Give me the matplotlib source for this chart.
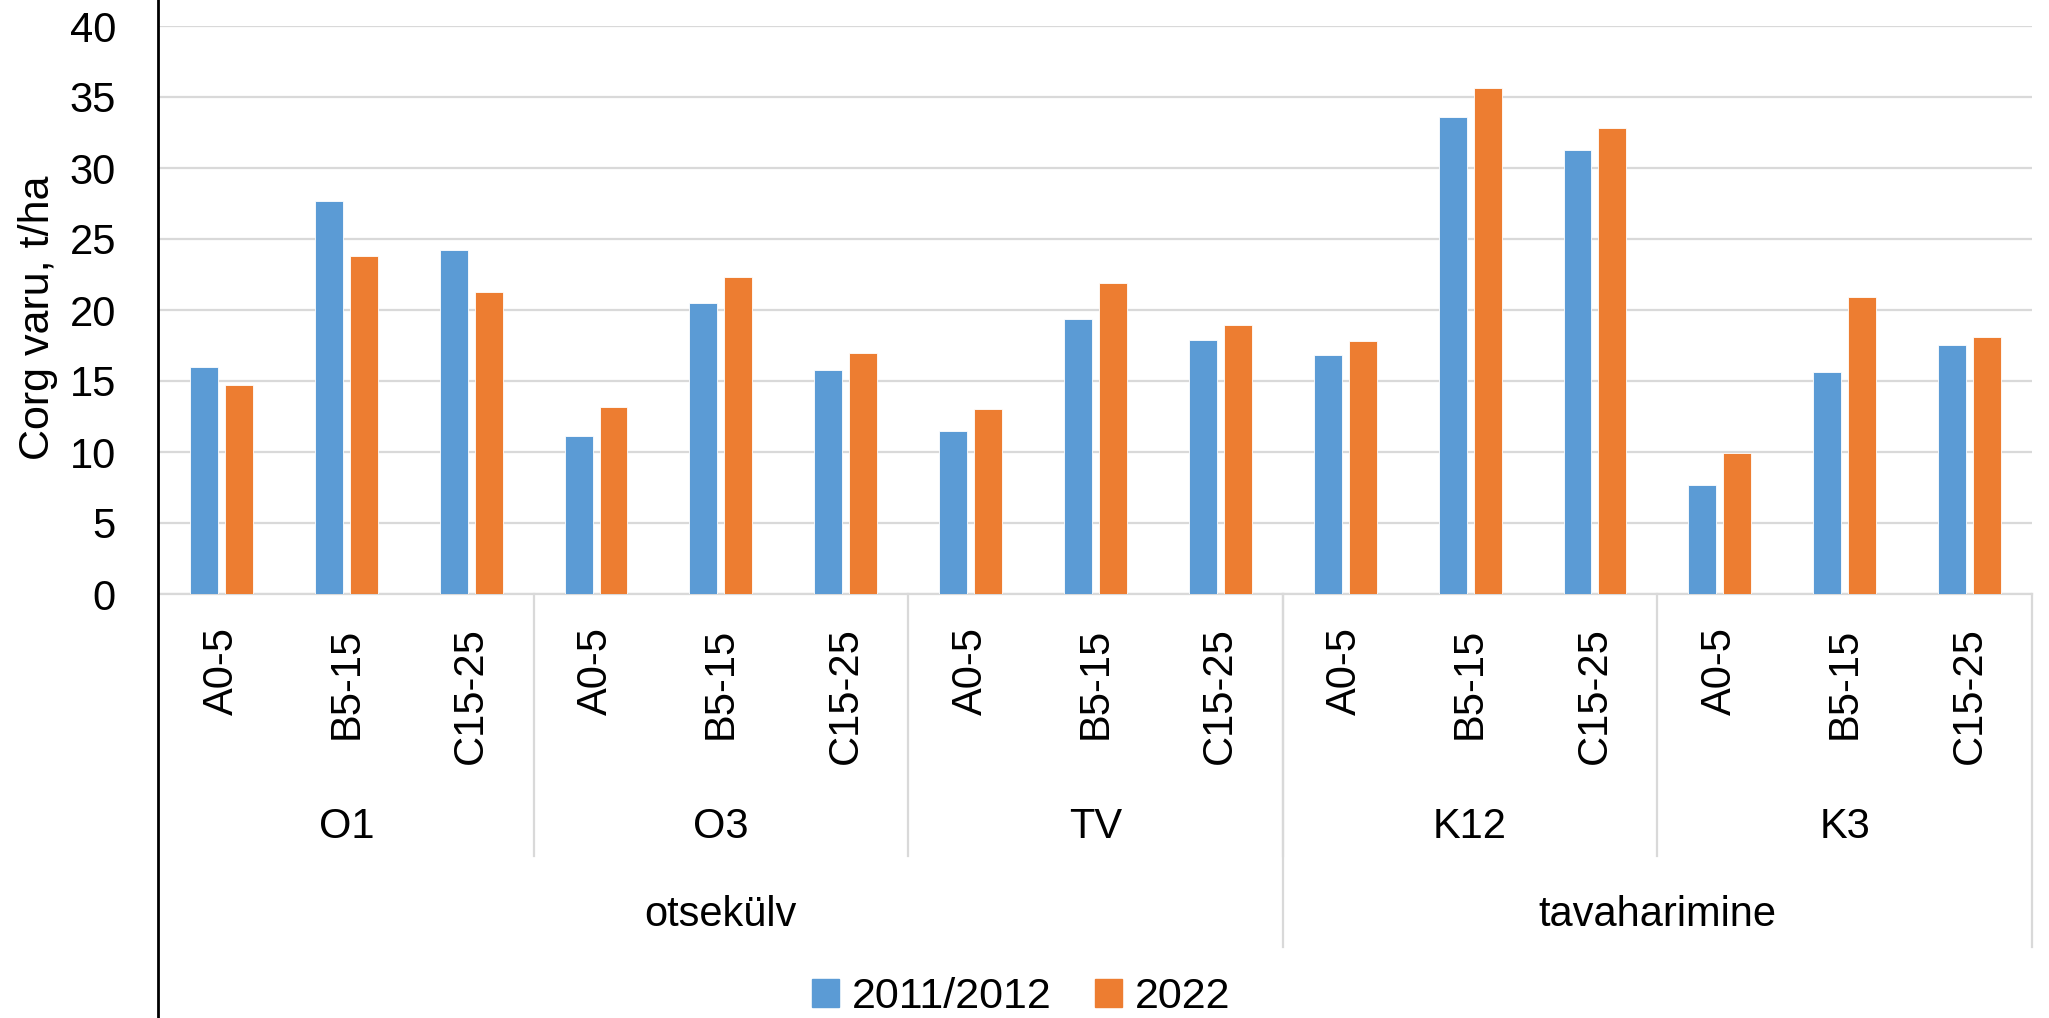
import matplotlib
matplotlib.use('Agg')
import matplotlib.pyplot as plt
from matplotlib.patches import Patch
from matplotlib.lines import Line2D

# Categories (three levels) and values
depths = ['A0-5', 'B5-15', 'C15-25']
plots = ['O1', 'O3', 'TV', 'K12', 'K3']
methods = ['otsekülv', 'tavaharimine']
plots_per_method = [3, 2]

vals_2011 = [16.0, 27.7, 24.2, 11.1, 20.5, 15.8, 11.5, 19.4, 17.9,
             16.85, 33.6, 31.3, 7.7, 15.6, 17.55]
vals_2022 = [14.7, 23.8, 21.3, 13.2, 22.3, 17.0, 13.0, 21.9, 18.95,
             17.8, 35.6, 32.8, 9.9, 20.9, 18.1]
series_names = ['2011/2012', '2022']

blue = '#5B9BD5'
orange = '#ED7D31'
grid_col = '#D9D9D9'
fs = 30
plt.rcParams['font.family'] = ['Liberation Sans', 'DejaVu Sans']

W, H = 2049, 1018
fig = plt.figure(figsize=(W / 100, H / 100), dpi=100)
ax = fig.add_axes([159 / W, 1 - 594 / H, (2032 - 159) / W, (594 - 26) / H])

n = len(vals_2011)
x = list(range(n))
bw = 0.224
ax.bar([i - 0.14 for i in x], vals_2011, width=bw, color=blue, edgecolor='white', linewidth=0.6, zorder=3)
ax.bar([i + 0.14 for i in x], vals_2022, width=bw, color=orange, edgecolor='white', linewidth=0.6, zorder=3)

ax.set_xlim(-0.5, n - 0.5)
ax.set_ylim(0, 40)
ax.set_yticks(range(0, 41, 5))
ax.yaxis.grid(True, color=grid_col, linewidth=1.6, zorder=0)
ax.set_axisbelow(True)
for s in ['top', 'right', 'left']:
    ax.spines[s].set_visible(False)
ax.spines['bottom'].set_color(grid_col)
ax.spines['bottom'].set_linewidth(1.6)
ax.tick_params(axis='y', length=0, pad=31, labelsize=fs)

# innermost level: depth labels, rotated
ax.set_xticks(x)
ax.set_xticklabels(depths * len(plots), rotation=90, fontsize=fs)
ax.tick_params(axis='x', length=0, pad=24)

trans = ax.get_xaxis_transform()
# plot level labels and separators
for k, p in enumerate(plots):
    ax.text(3 * k + 1, -0.41, p, transform=trans, ha='center', va='center', fontsize=fs)
for k in range(1, len(plots)):
    ax.plot([3 * k - 0.5, 3 * k - 0.5], [0, -0.461], transform=trans, color=grid_col,
            linewidth=1.6, clip_on=False)

# method level labels and separators
start = 0
for m, cnt in zip(methods, plots_per_method):
    mid = start * 3 + cnt * 3 / 2 - 0.5
    ax.text(mid, -0.565, m, transform=trans, ha='center', va='center', fontsize=fs)
    start += cnt
    xb = start * 3 - 0.5
    ax.plot([xb, xb], [0, -0.621], transform=trans, color=grid_col, linewidth=1.6, clip_on=False)

# left axis line, runs the full height of the picture
fig.add_artist(Line2D([158 / W, 158 / W], [0, 1], color='black', linewidth=2))

fig.text(38 / W, 1 - 318 / H, 'Corg varu, t/ha', rotation=90, ha='center', va='center', fontsize=31)

handles = [Patch(color=blue), Patch(color=orange)]
fig.legend(handles, series_names, loc='center', bbox_to_anchor=(0.4985, 1 - 997 / H), ncol=2,
           frameon=False, fontsize=31, handlelength=0.63, handleheight=0.63,
           handletextpad=0.3, columnspacing=1.0, borderpad=0)

fig.savefig('out.png', dpi=100)
